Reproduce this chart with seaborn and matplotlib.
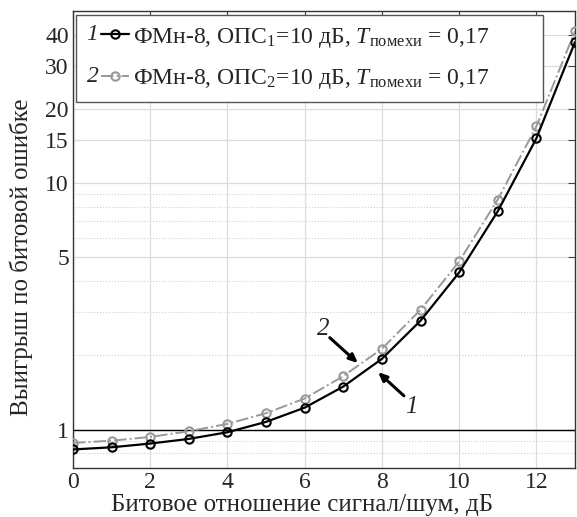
import numpy as np
import pandas as pd
import matplotlib
matplotlib.use("Agg")
import matplotlib.pyplot as plt
import seaborn as sns
from matplotlib.legend_handler import HandlerLine2D
from matplotlib.text import Text
from matplotlib.ticker import FixedLocator, FixedFormatter, NullFormatter

# Bit SNR, dB
snr_db = [0, 1, 2, 3, 4, 5, 6, 7, 8, 9, 10, 11, 12, 13]
# Gain in bit error, curve 1 (OPS1) and curve 2 (OPS2)
gain_1 = [0.83, 0.847, 0.877, 0.916, 0.975, 1.074, 1.227, 1.494, 1.936, 2.765, 4.34, 7.69, 15.2, 37.4]
gain_2 = [0.882, 0.901, 0.933, 0.984, 1.054, 1.165, 1.336, 1.647, 2.127, 3.06, 4.81, 8.58, 17.0, 41.4]

label_1 = r"ФМн-8, ОПС$_1$=10 дБ, $T_{\mathrm{помехи}}$ = 0,17"
label_2 = r"ФМн-8, ОПС$_2$=10 дБ, $T_{\mathrm{помехи}}$ = 0,17"

y_major = [1, 5, 10, 15, 20, 30, 40]
y_minor = [0.8, 0.9, 2, 3, 4, 6, 7, 8, 9]

sns.set_style("white")
plt.rcParams["font.family"] = ["Liberation Serif", "DejaVu Serif"]
plt.rcParams["mathtext.fontset"] = "custom"
plt.rcParams["mathtext.rm"] = "Liberation Serif"
plt.rcParams["mathtext.it"] = "Liberation Serif:italic"

df = pd.DataFrame({"snr": snr_db, "g1": gain_1, "g2": gain_2})

fig = plt.figure(figsize=(5.77, 5.17), dpi=100)
ax = fig.add_axes([0.1265, 0.0954, 0.87, 0.8833])

sns.lineplot(data=df, x="snr", y="g1", ax=ax, color="black", lw=1.6,
             marker="o", markersize=6, markerfacecolor="none",
             markeredgecolor="black", markeredgewidth=1.5, zorder=4)
sns.lineplot(data=df, x="snr", y="g2", ax=ax, color="#999999", lw=1.4,
             linestyle="-.", marker="o", markersize=6, markerfacecolor="none",
             markeredgecolor="#999999", markeredgewidth=1.5, zorder=3)
h1, h2 = ax.lines[0], ax.lines[1]

ax.axhline(1, color="black", lw=1, zorder=2)

ax.set_yscale("log")
ax.set_xlim(0, 13)
ax.set_ylim(0.7, 50)
ax.set_xticks(range(0, 13, 2))
ax.yaxis.set_major_locator(FixedLocator(y_major))
ax.yaxis.set_major_formatter(FixedFormatter([str(v) for v in y_major]))
ax.yaxis.set_minor_locator(FixedLocator(y_minor))
ax.yaxis.set_minor_formatter(NullFormatter())

ax.grid(True, which="major", color="#dcdcdc", lw=0.9, zorder=0)
ax.grid(True, which="minor", axis="y", color="#d0d0d0", lw=0.8, linestyle=":")
ax.set_axisbelow(True)

ax.tick_params(axis="both", which="major", labelsize=17, direction="in",
               length=5, top=True, right=True, color="#444444", pad=3)
ax.tick_params(axis="y", which="minor", length=0)
for s in ax.spines.values():
    s.set_color("#333333")
    s.set_linewidth(1)

ax.set_xlabel("Битовое отношение сигнал/шум, дБ", fontsize=18)
ax.set_ylabel("Выигрыш по битовой ошибке", fontsize=18)
ax.xaxis.set_label_coords(0.456, -0.057)
ax.yaxis.set_label_coords(-0.080, 0.46)


class NumberedHandler(HandlerLine2D):
    def __init__(self, num, **kw):
        super().__init__(**kw)
        self.num = num

    def create_artists(self, legend, orig_handle, xdescent, ydescent,
                       width, height, fontsize, trans):
        shift = 0.62 * fontsize
        arts = super().create_artists(legend, orig_handle, xdescent - shift,
                                      ydescent, width - shift, height,
                                      fontsize, trans)
        t = Text(0.25 * fontsize - xdescent, height / 2 - ydescent, self.num,
                 ha="center", va="center", fontsize=fontsize,
                 fontstyle="italic", transform=trans)
        return list(arts) + [t]


leg = ax.legend([h1, h2], [label_1, label_2], loc="upper left",
                bbox_to_anchor=(0.006, 0.0, 0.93, 0.991), mode="expand",
                fontsize=17, frameon=True, fancybox=False, framealpha=1,
                edgecolor="#555555", handlelength=1.8, handletextpad=0.15,
                borderpad=0.45, labelspacing=0.75, borderaxespad=0,
                handler_map={h1: NumberedHandler("1"), h2: NumberedHandler("2")})
leg.get_frame().set_linewidth(1)

arrow_style = dict(arrowstyle="-|>,head_length=0.5,head_width=0.22",
                   color="black", lw=2.2, shrinkA=0, shrinkB=0)
ax.annotate("", xy=(7.38, 1.86), xytext=(6.65, 2.36), arrowprops=arrow_style)
ax.annotate("", xy=(7.9, 1.71), xytext=(8.57, 1.37), arrowprops=arrow_style)
ax.text(6.49, 2.56, "2", fontsize=18, fontstyle="italic", ha="center", va="center")
ax.text(8.75, 1.24, "1", fontsize=18, fontstyle="italic", ha="center", va="center")

fig.savefig("out.png", dpi=100)
